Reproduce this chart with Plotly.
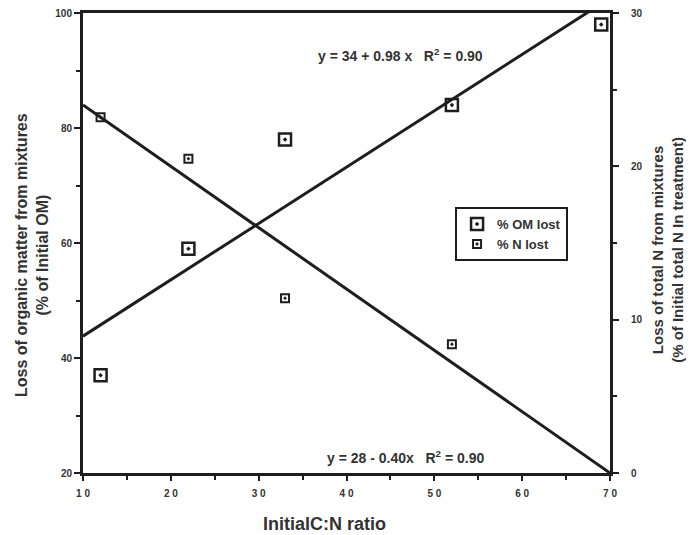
import plotly.graph_objects as go

# Data
cn_ratio = [12, 22, 33, 52, 69]
om_lost = [37, 59, 78, 84, 98]
n_ratio = [12, 22, 33, 52]
n_lost = [23.2, 20.5, 11.4, 8.4]

om_fit_intercept, om_fit_slope = 34, 0.98
n_fit_intercept, n_fit_slope = 28, -0.40
fit_x = [10, 70]

x_ticks = [10, 20, 30, 40, 50, 60, 70]
x_ticktext = ["1 0", "2 0", "3 0", "4 0", "5 0", "6 0", "7 0"]

INK = "#1e1e1e"
TXT = "#333333"
FONT = "Liberation Sans"

om_fit_y = [om_fit_intercept + om_fit_slope * x for x in fit_x]
n_fit_y = [n_fit_intercept + n_fit_slope * x for x in fit_x]

fig = go.Figure()

fig.add_trace(go.Scatter(x=fit_x, y=om_fit_y, mode="lines",
                         line=dict(color=INK, width=3), showlegend=False,
                         hoverinfo="skip"))
fig.add_trace(go.Scatter(x=fit_x, y=n_fit_y, mode="lines", yaxis="y2",
                         line=dict(color=INK, width=3), showlegend=False,
                         hoverinfo="skip"))
fig.add_trace(go.Scatter(x=cn_ratio, y=om_lost, mode="markers", name="<b>% OM lost</b>",
                         marker=dict(symbol="square-open-dot", size=12, color=INK,
                                     line=dict(width=2.5, color=INK))))
fig.add_trace(go.Scatter(x=n_ratio, y=n_lost, mode="markers", name="<b>% N lost</b>",
                         yaxis="y2",
                         marker=dict(symbol="square-open-dot", size=8, color=INK,
                                     line=dict(width=2, color=INK))))

tickfont = dict(size=10, family=FONT, color=TXT, weight="bold")

fig.update_layout(
    width=694, height=535,
    margin=dict(l=75, r=92, t=5, b=70),
    paper_bgcolor="white", plot_bgcolor="white",
    font=dict(family=FONT, color=TXT, size=11),
    xaxis=dict(range=[10, 70], tickvals=x_ticks, ticktext=x_ticktext,
               showline=True, linecolor=INK, linewidth=3, mirror=True,
               ticks="outside", ticklen=5, tickwidth=2, tickcolor=INK,
               minor=dict(dtick=5, ticks="outside", ticklen=4, tickwidth=2, tickcolor=INK),
               showgrid=False, zeroline=False, automargin=False,
               ticklabeloverflow="allow",
               ticklabelstandoff=4, tickfont=tickfont),
    yaxis=dict(range=[20, 100], dtick=20, showline=True, linecolor=INK, linewidth=3,
               ticks="outside", ticklen=6, tickwidth=2, tickcolor=INK,
               minor=dict(dtick=10, ticks="outside", ticklen=4, tickwidth=2, tickcolor=INK),
               showgrid=False, zeroline=False, automargin=False,
               ticklabeloverflow="allow",
               tickfont=tickfont),
    yaxis2=dict(range=[0, 30], dtick=10, overlaying="y", side="right",
                showline=True, linecolor=INK, linewidth=3,
                ticks="outside", ticklen=6, tickwidth=2, tickcolor=INK,
                minor=dict(dtick=5, ticks="outside", ticklen=4, tickwidth=2, tickcolor=INK),
                showgrid=False, zeroline=False, automargin=False,
                ticklabeloverflow="allow",
                ticklabelstandoff=10, tickfont=tickfont),
    legend=dict(x=0.706, y=0.578, xanchor="left", yanchor="top",
                bgcolor="white", bordercolor=INK, borderwidth=2,
                font=dict(size=13, color=TXT, family=FONT),
                itemwidth=30, tracegroupgap=0),
    showlegend=True,
)

# Axis titles
fig.add_annotation(x=-0.0968, y=0.474, xref="paper", yref="paper", showarrow=False,
                   textangle=-90, xanchor="center", yanchor="middle",
                   text="<b>Loss of organic matter from mixtures<br>(% of Initial OM)</b>",
                   font=dict(size=16, color=TXT, family=FONT))
fig.add_annotation(x=1.110, y=0.485, xref="paper", yref="paper", showarrow=False,
                   textangle=-90, xanchor="center", yanchor="middle",
                   text="<b>Loss of total N from mixtures<br>(% of Initial total N In treatment)</b>",
                   font=dict(size=15, color=TXT, family=FONT))
fig.add_annotation(x=0.459, y=-0.111, xref="paper", yref="paper", showarrow=False,
                   xanchor="center", yanchor="middle",
                   text="<b>InitialC:N ratio</b>",
                   font=dict(size=18, color=TXT, family=FONT))

# Regression equations
fig.add_annotation(x=46.1, y=92.7, xref="x", yref="y", showarrow=False,
                   text="<b>y = 34 + 0.98 x   R<sup>2</sup> = 0.90</b>",
                   font=dict(size=14, color=TXT, family=FONT))
fig.add_annotation(x=46.7, y=22.8, xref="x", yref="y", showarrow=False,
                   text="<b>y = 28 - 0.40x   R<sup>2</sup> = 0.90</b>",
                   font=dict(size=14, color=TXT, family=FONT))

fig.write_html("out.html")
